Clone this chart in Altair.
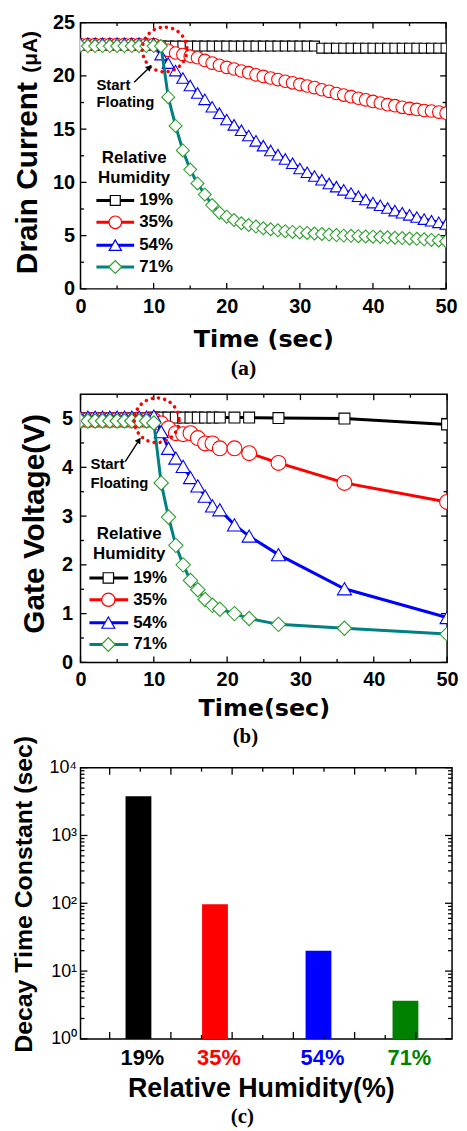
import altair as alt
import pandas as pd

SANS = "Liberation Sans"
WIDE = "DejaVu Sans"
SERIF = "Liberation Serif"

# ---------------- data ----------------
series_names = ["19%", "35%", "54%", "71%"]
line_colors = ["#000000", "#ff0000", "#0000ff", "#008080"]
marker_colors = ["#000000", "#ff0000", "#0000ff", "#2ca02c"]
marker_shapes = ["square", "circle", "triangle-up", "diamond"]

# (a) drain current (uA) vs time (sec)
time_a = [0, 1, 2, 3, 4, 5, 6, 7, 8, 9, 10, 11, 12, 13, 14, 15, 16, 17, 18, 19, 20,
          21, 22, 23, 24, 25, 26, 27, 28, 29, 30, 31, 32, 33, 34, 35, 36, 37, 38, 39, 40,
          41, 42, 43, 44, 45, 46, 47, 48, 49, 50]
cur_19 = [22.9, 22.9, 22.9, 22.9, 22.9, 22.9, 22.9, 22.9, 22.9, 22.9, 22.9,
          22.8, 22.8, 22.8, 22.8, 22.8, 22.8, 22.8, 22.8, 22.8, 22.8, 22.8,
          22.8, 22.8, 22.8, 22.8, 22.8, 22.8, 22.8, 22.8, 22.8, 22.8, 22.8,
          22.6, 22.6, 22.6, 22.6, 22.6, 22.6, 22.6, 22.6, 22.6, 22.6, 22.6,
          22.6, 22.6, 22.6, 22.6, 22.6, 22.6, 22.6]
cur_35 = [22.95, 22.95, 22.95, 22.95, 22.95, 22.95, 22.95, 22.95, 22.95, 22.95, 22.95,
          22.7, 22.4, 22.15, 22.0, 21.85, 21.7, 21.45, 21.2, 21.0, 20.8,
          20.65, 20.46, 20.3, 20.1, 19.95, 19.8, 19.65, 19.5, 19.35, 19.2,
          19.05, 18.9, 18.7, 18.55, 18.35, 18.2, 18.05, 17.9, 17.75, 17.6,
          17.45, 17.3, 17.2, 17.05, 16.95, 16.85, 16.75, 16.7, 16.6, 16.5]
cur_54 = [23.05, 23.05, 23.05, 23.05, 23.05, 23.05, 23.05, 23.05, 23.05, 23.05, 23.05,
          22.0, 21.2, 20.5, 19.8, 19.1, 18.4, 17.8, 17.1, 16.5, 15.9,
          15.4, 14.9, 14.4, 13.9, 13.45, 13.0, 12.6, 12.2, 11.8, 11.3,
          10.95, 10.6, 10.25, 9.9, 9.6, 9.3, 9.0, 8.7, 8.4, 8.1,
          7.85, 7.6, 7.35, 7.15, 6.95, 6.75, 6.55, 6.4, 6.25, 6.1]
cur_71 = [22.8, 22.8, 22.8, 22.8, 22.8, 22.8, 22.8, 22.8, 22.8, 22.8, 22.8,
          22.8, 18.0, 15.3, 13.0, 11.2, 9.9, 8.86, 7.87, 7.15, 6.78,
          6.47, 6.16, 6.0, 5.85, 5.69, 5.6, 5.5, 5.42, 5.35, 5.3,
          5.25, 5.2, 5.15, 5.1, 5.05, 5.0, 4.98, 4.95, 4.92, 4.9,
          4.87, 4.84, 4.8, 4.77, 4.73, 4.7, 4.65, 4.6, 4.55, 4.45]

# (b) gate voltage (V) vs time (sec)
time_b = [0, 1, 2, 3, 4, 5, 6, 7, 8, 9, 10, 11, 12, 13, 14, 15, 16, 17, 18, 19,
          21, 23, 27, 36, 50]
volt_19 = [5.0, 5.0, 5.0, 5.0, 5.0, 5.0, 5.0, 5.0, 5.0, 5.0, 5.02, 5.02,
           5.02, 5.02, 5.02, 5.02, 5.02, 5.02, 5.02, 5.02, 5.02, 5.02, 5.01, 5.0, 4.88]
volt_35 = [4.97, 4.97, 4.97, 4.97, 4.97, 4.97, 4.97, 4.97, 4.97, 4.97, 4.97, 4.9,
           4.8, 4.7, 4.68, 4.7, 4.6, 4.49, 4.49, 4.39, 4.39, 4.29, 4.09, 3.68, 3.29]
volt_54 = [5.03, 5.03, 5.03, 5.03, 5.03, 5.03, 5.03, 5.03, 5.03, 5.03, 5.05, 4.73,
           4.39, 4.19, 4.02, 3.79, 3.62, 3.41, 3.21, 3.13, 2.82, 2.59, 2.21, 1.51, 0.92]
volt_71 = [4.95, 4.95, 4.95, 4.95, 4.95, 4.95, 4.95, 4.95, 4.95, 4.95, 4.91, 3.68,
           2.98, 2.40, 2.0, 1.68, 1.49, 1.29, 1.17, 1.09, 1.0, 0.9, 0.78, 0.70, 0.58]

# (c) decay time constant (sec)
rh_labels = ["19%", "35%", "54%", "71%"]
bar_pos = [1.47, 2.72, 4.41, 5.83]
decay_tau = [3800, 97, 20, 3.66]
bar_colors = ["#000000", "#ff0000", "#0000ff", "#008000"]

# tick values
time_major = [0, 10, 20, 30, 40, 50]
time_minor = [5, 15, 25, 35, 45]
cur_major = [0, 5, 10, 15, 20, 25]
cur_minor = [2.5, 7.5, 12.5, 17.5, 22.5]
volt_major = [0, 1, 2, 3, 4, 5]
volt_minor = [0.5, 1.5, 2.5, 3.5, 4.5]
c_x_major = [1, 2, 3, 4, 5, 6]
c_x_minor = [1.5, 2.5, 3.5, 4.5, 5.5]
c_y_major = [1, 10, 100, 1000, 10000]
c_y_minor = [2, 3, 4, 5, 6, 7, 8, 9, 20, 30, 40, 50, 60, 70, 80, 90,
             200, 300, 400, 500, 600, 700, 800, 900, 2000, 3000, 4000, 5000, 6000, 7000, 8000, 9000]

one = pd.DataFrame({"k": [0]})


def tick_layers(xs, ys, xaxis, yaxis, W, H, x_major, x_minor, y_major, y_minor, L=6, l=3.5):
    out = []
    for vals, n in ((x_major, L), (x_minor, l)):
        d = pd.DataFrame({"v": vals})
        r = alt.Chart(d).mark_rule(color="black", strokeWidth=1.3)
        out.append(r.encode(x=alt.X("v:Q", scale=xs, axis=xaxis), y=alt.value(H), y2=alt.value(H - n)))
        out.append(r.encode(x=alt.X("v:Q", scale=xs, axis=xaxis), y=alt.value(0), y2=alt.value(n)))
    for vals, n in ((y_major, L), (y_minor, l)):
        d = pd.DataFrame({"v": vals})
        r = alt.Chart(d).mark_rule(color="black", strokeWidth=1.3)
        out.append(r.encode(y=alt.Y("v:Q", scale=ys, axis=yaxis), x=alt.value(0), x2=alt.value(n)))
        out.append(r.encode(y=alt.Y("v:Q", scale=ys, axis=yaxis), x=alt.value(W), x2=alt.value(W - n)))
    return out


def txt(s, x, y, size, weight="bold", font=SANS, align="left", baseline="alphabetic", angle=None, color="black"):
    kw = dict(text=s, fontSize=size, fontWeight=weight, font=font, align=align, baseline=baseline, color=color)
    if angle is not None:
        kw["angle"] = angle
    return alt.Chart(one).mark_text(**kw).encode(x=alt.value(x), y=alt.value(y))


def series_layers(times, values, xs, ys, xaxis, yaxis, sizes):
    out = []
    for i in range(4):
        d = pd.DataFrame({"t": times, "v": values[i]})
        enc = dict(x=alt.X("t:Q", scale=xs, axis=xaxis), y=alt.Y("v:Q", scale=ys, axis=yaxis))
        out.append(alt.Chart(d).mark_line(color=line_colors[i], strokeWidth=3, clip=True).encode(**enc))
        out.append(alt.Chart(d).mark_point(shape=marker_shapes[i], size=sizes[i], filled=True, fill="white",
                                           stroke=marker_colors[i], strokeWidth=1.1, opacity=1,
                                           clip=True).encode(**enc))
    return out


def legend_layers(x0, x1, xm, xt, yr1, yr2, ys, sizes, xc):
    out = [txt("Relative", xc, yr1, 17, align="center"), txt("Humidity", xc, yr2, 17, align="center")]
    for i in range(4):
        out.append(alt.Chart(one).mark_rule(color=line_colors[i], strokeWidth=3).encode(
            x=alt.value(x0), x2=alt.value(x1), y=alt.value(ys[i])))
        out.append(alt.Chart(one).mark_point(shape=marker_shapes[i], size=sizes[i], filled=True, fill="white",
                                             stroke=marker_colors[i], strokeWidth=1.2, opacity=1).encode(
            x=alt.value(xm), y=alt.value(ys[i])))
        out.append(txt(series_names[i], xt, ys[i], 17, baseline="middle"))
    return out


def floating_layers(cx, cy, ax0, ay0, ax1, ay1, hx, hy, angle, tx, ty1, ty2):
    circ = alt.Chart(one).mark_point(shape="circle", size=2025, filled=False, stroke="#ff0000", strokeWidth=3.5,
                                     strokeDash=[0.1, 6.2], strokeCap="round", opacity=1).encode(
        x=alt.value(cx), y=alt.value(cy))
    arrow = alt.Chart(one).mark_rule(color="black", strokeWidth=1.4).encode(
        x=alt.value(ax0), y=alt.value(ay0), x2=alt.value(ax1), y2=alt.value(ay1))
    head = alt.Chart(one).mark_point(shape="triangle", size=45, filled=True, color="black", angle=angle,
                                     opacity=1).encode(x=alt.value(hx), y=alt.value(hy))
    return [circ, arrow, head, txt("Start", tx, ty1, 15), txt("Floating", tx, ty2, 15)]


# ---------------- panel (a) ----------------
WA, HA = 368, 268
xs_a = alt.Scale(domain=[0, 50], nice=False, zero=False)
ys_a = alt.Scale(domain=[0, 25], nice=False, zero=False)
xaxis_a = alt.Axis(values=time_major, format="d", title="Time (sec)", titleFont=WIDE, titleFontSize=24,
                   titleFontWeight="bold", titleY=58, titleBaseline="alphabetic",
                   labelBaseline="alphabetic", labelPadding=24)
yaxis_a = alt.Axis(values=cur_major, format="d", title="Drain Current", titleFont=SANS, titleFontSize=30,
                   titleFontWeight="bold", titleX=-44, titleY=156, titleBaseline="alphabetic",
                   labelPadding=6)
layers_a = tick_layers(xs_a, ys_a, xaxis_a, yaxis_a, WA, HA, time_major, time_minor, cur_major, cur_minor)
layers_a += series_layers(time_a, [cur_19, cur_35, cur_54, cur_71], xs_a, ys_a, xaxis_a, yaxis_a,
                          [100, 160, 150, 170])
layers_a += floating_layers(84.7, 27, 54, 60, 68.3, 46.1, 68.65, 45.75, 45, 16, 68, 85)
layers_a += legend_layers(16, 54, 35, 59, 141, 161, [179, 201, 224, 246], [100, 160, 150, 170], 54)
layers_a += [txt("(μA)", -44, 29.5, 21, align="center", angle=270),
             txt("(a)", 164, 355, 22, font=SERIF, align="center")]
panel_a = alt.layer(*layers_a).properties(width=WA, height=HA)

# ---------------- panel (b) ----------------
WB, HB = 369, 270
xs_b = alt.Scale(domain=[0, 50], nice=False, zero=False)
ys_b = alt.Scale(domain=[0, 5.5], nice=False, zero=False)
xaxis_b = alt.Axis(values=time_major, format="d", title="Time(sec)", titleFont=WIDE, titleFontSize=24,
                   titleFontWeight="bold", titleY=53, titleBaseline="alphabetic",
                   labelBaseline="alphabetic", labelPadding=23)
yaxis_b = alt.Axis(values=volt_major, format="d", title="Gate Voltage(V)", titleFont=SANS, titleFontSize=30,
                   titleFontWeight="bold", titleX=-37, titleY=130, titleBaseline="alphabetic",
                   labelPadding=8)
layers_b = tick_layers(xs_b, ys_b, xaxis_b, yaxis_b, WB, HB, time_major, time_minor, volt_major, volt_minor)
layers_b += series_layers(time_b, [volt_19, volt_35, volt_54, volt_71], xs_b, ys_b, xaxis_b, yaxis_b,
                          [121, 225, 200, 210])
layers_b += floating_layers(76.7, 26.3, 45, 68, 58.0, 47.8, 58.4, 47.1, 32.7, 10, 75, 94)
layers_b += legend_layers(9, 48, 28, 53, 146, 166, [185, 207, 230, 252], [110, 180, 170, 190], 49)
layers_b += [txt("(b)", 166, 351, 21, font=SERIF, align="center")]
panel_b = alt.layer(*layers_b).properties(width=WB, height=HB)

# ---------------- panel (c) ----------------
WC, HC = 374, 273
xs_c = alt.Scale(domain=[0.605, 6.51], nice=False, zero=False)
ys_c = alt.Scale(type="log", domain=[1, 10000], nice=False)
sup = '"10" + ["\u2070", "\u00b9", "\u00b2", "\u00b3", "\u2074"][round(log(datum.value) / LN10)]'
xaxis_c = alt.Axis(labels=False, title="Relative Humidity(%)", titleFont=SANS, titleFontSize=27,
                   titleFontWeight="bold", titleX=181.5, titleY=58, titleBaseline="alphabetic")
yaxis_c = alt.Axis(values=c_y_major, labelExpr=sup, labelFontWeight="normal", labelFontSize=18, labelPadding=4,
                   title="Decay Time Constant (sec)", titleFont=SANS, titleFontSize=25, titleFontWeight="bold",
                   titleX=-49, titleY=127, titleBaseline="alphabetic")
bars = pd.DataFrame({"pos": bar_pos, "tau": decay_tau, "rh": rh_labels})
bar_layer = alt.Chart(bars).transform_calculate(base="1").mark_bar(size=26, clip=True).encode(
    x=alt.X("pos:Q", scale=xs_c, axis=xaxis_c),
    y=alt.Y("tau:Q", scale=ys_c, axis=yaxis_c),
    y2="base:Q",
    color=alt.Color("rh:N", scale=alt.Scale(domain=rh_labels, range=bar_colors), legend=None),
)
label_layer = alt.Chart(bars).mark_text(fontSize=22, fontWeight="bold", font=SANS, dx=4,
                                        baseline="alphabetic").encode(
    x=alt.X("pos:Q", scale=xs_c, axis=xaxis_c),
    y=alt.value(HC + 26),
    text="rh:N",
    color=alt.Color("rh:N", scale=alt.Scale(domain=rh_labels, range=bar_colors), legend=None),
)
layers_c = [bar_layer] + tick_layers(xs_c, ys_c, xaxis_c, yaxis_c, WC, HC, c_x_major, c_x_minor,
                                     c_y_major, c_y_minor, L=7, l=4)
layers_c += [label_layer, txt("(c)", 163, 358, 21, font=SERIF, align="center")]
panel_c = alt.layer(*layers_c).properties(width=WC, height=HC)

chart = alt.vconcat(panel_a, panel_b, panel_c, spacing=106, bounds="flush").properties(
    padding={"left": 3, "top": 0, "right": 0, "bottom": 0}, background="white"
).configure_view(stroke="black", strokeWidth=1.5).configure_axis(
    domain=False, ticks=False, tickSize=0, grid=False, labelFont=SANS, labelFontWeight="bold",
    labelFontSize=20, labelColor="black", titleColor="black", labelFlush=False, labelOverlap=False
)

chart.save("out.html", embed_options={"renderer": "svg", "actions": False})
